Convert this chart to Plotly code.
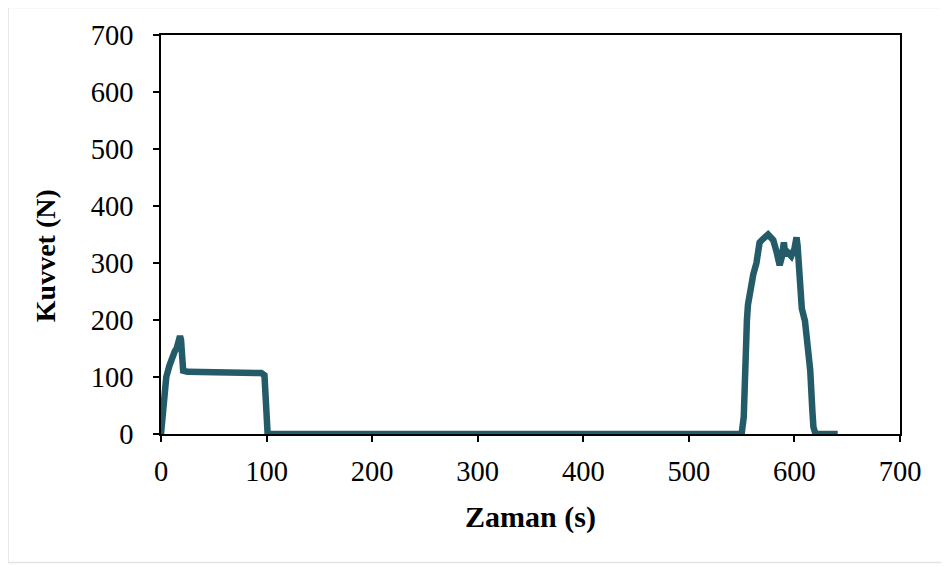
import plotly.graph_objects as go

time_s = [0, 2, 5, 8, 10, 13, 15, 17, 18, 19, 21, 25, 40, 60, 80, 95, 98, 100, 101,
          150, 250, 400, 500, 550, 552, 553, 555, 556, 558, 561, 564, 567, 569, 572,
          575, 577, 580, 583, 586, 588, 590, 591, 593, 594, 597, 600, 602, 603, 605,
          607, 610, 612, 615, 617, 618, 620, 630, 641]
force_n = [0, 50, 100, 120, 133, 145, 151, 170, 172, 165, 111, 109, 108, 108, 107, 107, 103, 50, 0,
           0, 0, 0, 0, 0, 30, 128, 200, 227, 250, 280, 300, 336, 340, 345,
           350, 346, 340, 320, 296, 310, 336, 320, 313, 318, 312, 325, 345, 330, 255,
           220, 198, 160, 111, 40, 12, 0, 0, 0]

x_ticks = [0, 100, 200, 300, 400, 500, 600, 700]
y_ticks = [0, 100, 200, 300, 400, 500, 600, 700]

fig = go.Figure()
fig.add_trace(go.Scatter(
    x=time_s, y=force_n, mode="lines",
    line=dict(color="#245B69", width=6.5, shape="linear"),
    showlegend=False, hoverinfo="skip",
))

font_family = "Liberation Serif, Times New Roman, serif"

fig.update_layout(
    width=941, height=558,
    margin=dict(l=153, r=49, t=22, b=132),
    paper_bgcolor="white", plot_bgcolor="white",
    font=dict(family=font_family, size=28, color="black"),
    xaxis=dict(
        range=[0, 700], tickvals=x_ticks, ticktext=[str(v) for v in x_ticks],
        showline=True, linecolor="black", linewidth=1.5, mirror=True,
        ticks="outside", ticklen=6, tickwidth=1.5, tickcolor="black",
        showgrid=False, zeroline=False, ticklabelstandoff=5,
        title=dict(text="<b>Zaman (s)</b>", font=dict(size=30), standoff=20),
        tickfont=dict(size=28.5),
    ),
    yaxis=dict(
        range=[0, 700], tickvals=y_ticks, ticktext=[str(v) for v in y_ticks],
        showline=True, linecolor="black", linewidth=1.5, mirror=True,
        ticks="outside", ticklen=6, tickwidth=1.5, tickcolor="black",
        showgrid=False, zeroline=False, ticklabelstandoff=14,
        tickfont=dict(size=28.5),
    ),
    annotations=[dict(
        text="<b>Kuvvet (N)</b>", textangle=-90, showarrow=False,
        xref="paper", yref="paper", x=-0.157, y=0.448,
        xanchor="center", yanchor="middle", font=dict(size=28),
    )],
    shapes=[dict(
        type="rect", xref="paper", yref="paper",
        x0=-0.207, x1=1.062, y0=-0.322, y1=1.069,
        line=dict(color="#e3e3e3", width=1.5), fillcolor="rgba(0,0,0,0)", layer="below",
    )],
)

fig.write_html("out.html")
